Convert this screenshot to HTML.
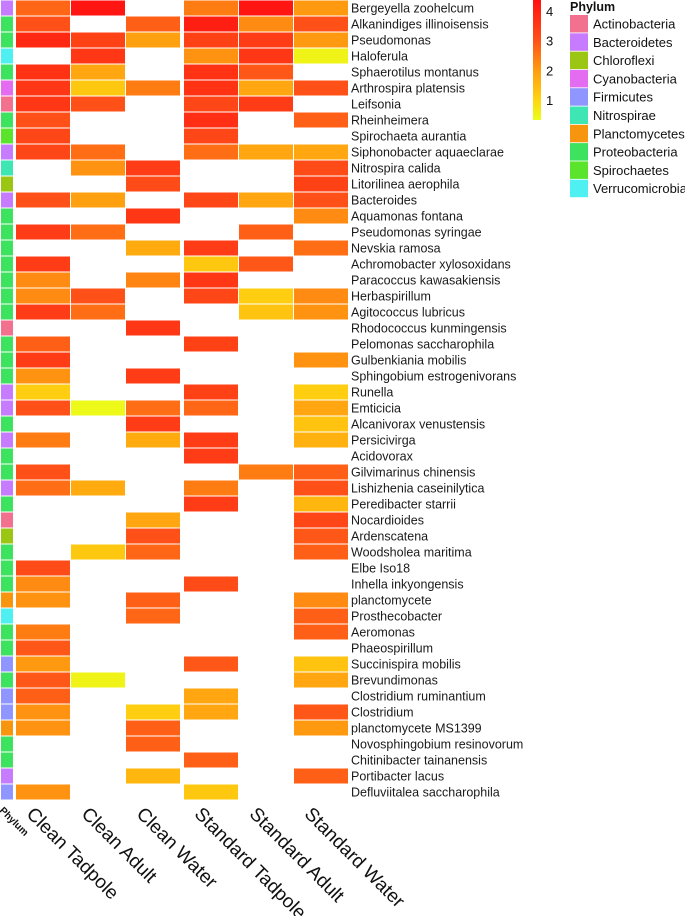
<!DOCTYPE html>
<html><head><meta charset="utf-8">
<style>
html,body{margin:0;padding:0;background:#fff;}
svg{display:block;font-family:"Liberation Sans",Arial,sans-serif;}
</style></head>
<body>
<svg id="chart" width="685" height="916" viewBox="0 0 685 916" xmlns="http://www.w3.org/2000/svg">
<defs>
<linearGradient id="cbar" x1="0" y1="1" x2="0" y2="0">
<stop offset="0" stop-color="#eaff1a"/>
<stop offset="0.17" stop-color="#ffd410"/>
<stop offset="0.42" stop-color="#ff9a10"/>
<stop offset="0.67" stop-color="#ff5018"/>
<stop offset="1" stop-color="#ff1010"/>
</linearGradient>
</defs>
<g id="cells"></g>
<g id="phy"></g>
<g id="rowlabels"></g>
<g id="collabels"></g>
<g id="legend"></g>
</svg>
<script>
const taxa = ["Bergeyella zoohelcum","Alkanindiges illinoisensis","Pseudomonas","Haloferula","Sphaerotilus montanus","Arthrospira platensis","Leifsonia","Rheinheimera","Spirochaeta aurantia","Siphonobacter aquaeclarae","Nitrospira calida","Litorilinea aerophila","Bacteroides","Aquamonas fontana","Pseudomonas syringae","Nevskia ramosa","Achromobacter xylosoxidans","Paracoccus kawasakiensis","Herbaspirillum","Agitococcus lubricus","Rhodococcus kunmingensis","Pelomonas saccharophila","Gulbenkiania mobilis","Sphingobium estrogenivorans","Runella","Emticicia","Alcanivorax venustensis","Persicivirga","Acidovorax","Gilvimarinus chinensis","Lishizhenia caseinilytica","Peredibacter starrii","Nocardioides","Ardenscatena","Woodsholea maritima","Elbe Iso18","Inhella inkyongensis","planctomycete","Prosthecobacter","Aeromonas","Phaeospirillum","Succinispira mobilis","Brevundimonas","Clostridium ruminantium","Clostridium","planctomycete MS1399","Novosphingobium resinovorum","Chitinibacter tainanensis","Portibacter lacus","Defluviitalea saccharophila"];
const taxonPhylum = ["Bacteroidetes","Proteobacteria","Proteobacteria","Verrucomicrobia","Proteobacteria","Cyanobacteria","Actinobacteria","Proteobacteria","Spirochaetes","Bacteroidetes","Nitrospirae","Chloroflexi","Bacteroidetes","Proteobacteria","Proteobacteria","Proteobacteria","Proteobacteria","Proteobacteria","Proteobacteria","Proteobacteria","Actinobacteria","Proteobacteria","Proteobacteria","Proteobacteria","Bacteroidetes","Bacteroidetes","Proteobacteria","Bacteroidetes","Proteobacteria","Proteobacteria","Bacteroidetes","Proteobacteria","Actinobacteria","Chloroflexi","Proteobacteria","Proteobacteria","Proteobacteria","Planctomycetes","Verrucomicrobia","Proteobacteria","Proteobacteria","Firmicutes","Proteobacteria","Firmicutes","Firmicutes","Planctomycetes","Proteobacteria","Proteobacteria","Bacteroidetes","Firmicutes"];
const samples = ["Clean Tadpole","Clean Adult","Clean Water","Standard Tadpole","Standard Adult","Standard Water"];
const cleanTadpole = [2.7,3.0,3.8,null,3.6,3.5,3.5,3.0,3.2,3.2,null,null,3.0,null,3.4,null,3.4,2.2,2.2,3.4,null,2.8,3.4,2.1,1.1,3.0,null,2.4,null,3.0,2.6,null,null,null,null,3.1,2.2,2.1,null,2.4,2.9,2.0,2.9,2.8,2.1,2.1,null,null,null,2.1];
const cleanAdult = [4.2,null,3.3,3.5,1.8,1.2,3.0,null,null,2.6,2.1,null,1.9,null,2.6,null,null,null,3.0,2.6,null,null,null,null,null,0.4,null,null,null,null,1.7,null,null,null,1.2,null,null,null,null,null,null,null,0.5,null,null,null,null,null,null,null];
const cleanWater = [null,2.8,1.9,null,null,2.4,null,null,null,null,3.4,3.1,null,3.5,null,1.7,null,2.3,null,null,3.5,null,null,3.4,null,2.6,3.4,1.7,null,null,null,null,1.8,3.0,2.7,null,null,2.8,2.7,null,null,null,null,null,1.1,2.8,2.8,null,1.5,null];
const standardTadpole = [2.4,4.0,3.3,2.1,3.6,3.6,3.2,3.7,3.2,2.6,null,null,3.2,null,null,3.4,1.2,3.5,3.2,null,null,3.3,null,null,3.3,2.7,null,3.4,3.4,null,2.4,3.4,null,null,null,null,3.1,null,null,null,null,2.9,null,1.8,1.8,null,null,2.8,null,1.2];
const standardAdult = [4.2,2.2,3.4,3.5,2.9,1.8,3.4,null,null,1.8,null,null,1.8,null,2.8,null,2.9,null,1.1,1.3,null,null,null,null,null,null,null,null,null,2.4,null,null,null,null,null,null,null,null,null,null,null,null,null,null,null,null,null,null,null,null];
const standardWater = [2.0,3.0,2.0,0.5,null,3.0,null,2.8,null,1.8,3.1,3.3,3.0,2.2,null,2.6,null,null,2.2,2.1,null,null,2.1,null,1.1,1.8,1.3,1.6,null,2.8,3.0,1.5,3.2,2.9,2.8,null,null,2.2,2.8,2.8,null,1.3,1.8,null,2.9,2.0,null,null,2.8,null];
const series = [cleanTadpole,cleanAdult,cleanWater,standardTadpole,standardAdult,standardWater];
const colorTicks = [1,2,3,4];
const phyla = ["Actinobacteria","Bacteroidetes","Chloroflexi","Cyanobacteria","Firmicutes","Nitrospirae","Planctomycetes","Proteobacteria","Spirochaetes","Verrucomicrobia"];
const phylumColors = ["#f2718f","#c77cff","#9cc614","#e46cf0","#9096ff","#3ee6b4","#f7950e","#3de25e","#5ae52c","#4ef0f2"];

const NS="http://www.w3.org/2000/svg";
function mk(tag,attrs,parent){const e=document.createElementNS(NS,tag);for(const k in attrs)e.setAttribute(k,attrs[k]);parent.appendChild(e);return e;}
const ROW_H=16, COL_W=55;
function yRow(i){return i*ROW_H;}
function xCol(j){return 16+j*COL_W+(j>=3?3:0);}
const vMin=0.33, vMax=4.37, cbTop=0, cbBot=120;
function yColor(v){return cbBot-(v-vMin)/(vMax-vMin)*(cbBot-cbTop);}
const stops=[[0.3,[234,255,26]],[1.0,[255,212,16]],[2.0,[255,154,16]],[3.0,[255,80,24]],[4.3,[255,16,16]]];
function color(v){
  if(v<=stops[0][0])return 'rgb('+stops[0][1]+')';
  for(let k=1;k<stops.length;k++){
    if(v<=stops[k][0]){const a=stops[k-1],b=stops[k];const t=(v-a[0])/(b[0]-a[0]);
      return 'rgb('+a[1].map((c,i)=>Math.round(c+(b[1][i]-c)*t)).join(',')+')';}
  }
  return 'rgb('+stops[stops.length-1][1]+')';
}
const cells=document.getElementById('cells');
series.forEach((arr,j)=>{
  arr.forEach((v,i)=>{
    if(v===null)return;
    const r=mk('rect',{x:xCol(j),y:yRow(i)+0.5,width:COL_W-1,height:ROW_H-1,fill:color(v)},cells);
    
    
  });
});
const phy=document.getElementById('phy');
taxonPhylum.forEach((p,i)=>{
  const r=mk('rect',{x:1,y:yRow(i)+0.5,width:12,height:ROW_H-1,fill:phylumColors[phyla.indexOf(p)]},phy);
  
  
});
const rl=document.getElementById('rowlabels');
taxa.forEach((t,i)=>{
  const e=mk('text',{x:351,y:yRow(i)+12.5,'font-size':'12.5',fill:'#1a1a1a'},rl);
  e.textContent=t;
  
  
});
const cl=document.getElementById('collabels');
samples.forEach((s,j)=>{
  const cx=xCol(j)+COL_W/2, bx=cx-18, by=815;
  const e=mk('text',{x:bx,y:by,'font-size':'19',fill:'#111',transform:'rotate(45 '+bx+' '+by+')'},cl);
  e.textContent=s;
  
  
});
const pl=mk('text',{x:-1,y:811,'font-size':'10','font-weight':'bold',fill:'#111',transform:'rotate(45 -1 811)'},cl);
pl.textContent='Phylum';



const lg=document.getElementById('legend');
const cb=mk('rect',{x:533,y:cbTop,width:8,height:cbBot-cbTop,fill:'url(#cbar)'},lg);


colorTicks.forEach(v=>{
  const t=mk('text',{x:546,y:yColor(v)+5,'font-size':'13',fill:'#111'},lg);
  t.textContent=String(v);
  
  
});
const lt=mk('text',{x:570,y:11,'font-size':'12.5','font-weight':'bold',fill:'#111'},lg);
lt.textContent='Phylum';


phyla.forEach((p,k)=>{
  const y=15+k*18.3;
  const s=mk('rect',{x:570,y:y,width:18,height:17.5,fill:phylumColors[k]},lg);
  
  
  const t=mk('text',{x:593,y:y+13.5,'font-size':'13',fill:'#111'},lg);
  t.textContent=p;
  
  
});
</script>
</body></html>
